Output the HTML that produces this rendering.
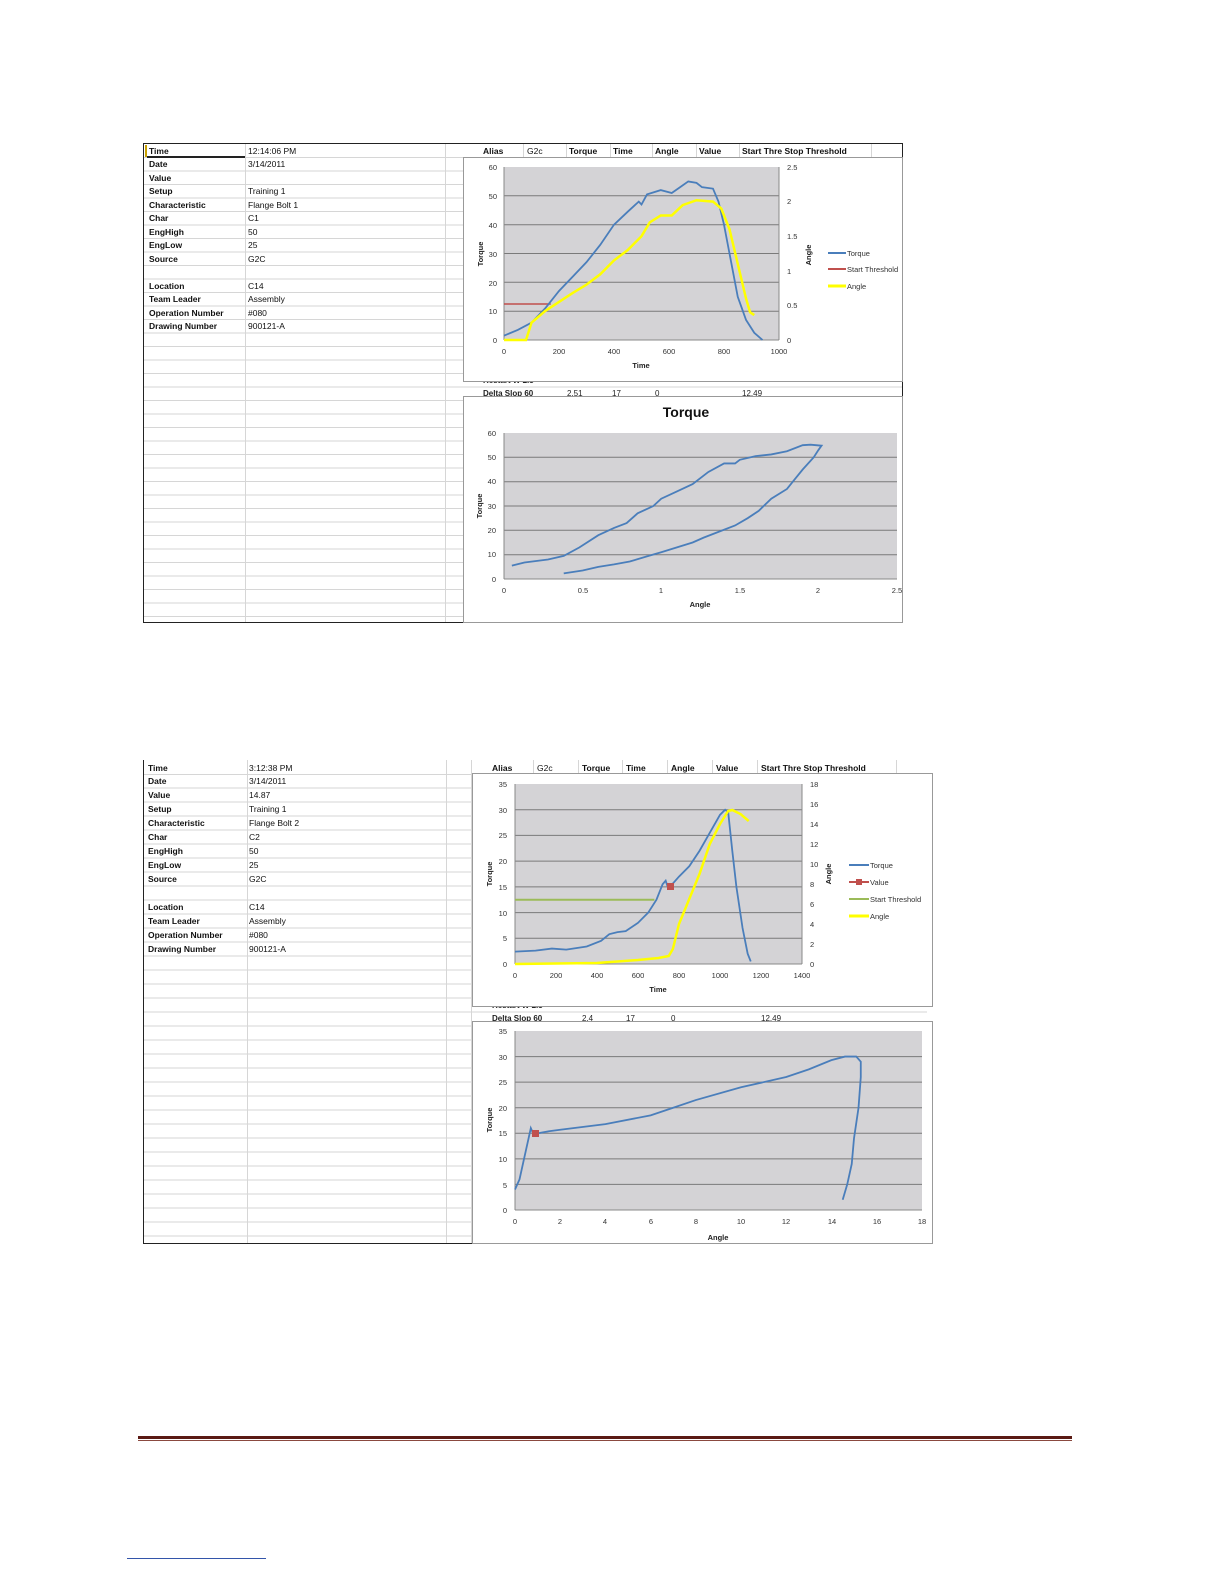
<!DOCTYPE html>
<html><head><meta charset="utf-8"><style>
body{margin:0;background:#fff;}
#p{position:relative;width:1224px;height:1584px;overflow:hidden;font-family:"Liberation Sans",sans-serif;}
.t{position:absolute;font-size:8.5px;color:#111;white-space:nowrap;line-height:10px;}
.b{font-weight:bold;}
svg{position:absolute;left:0;top:0;}
</style></head><body><div id="p">
<svg width="1224" height="1584" viewBox="0 0 1224 1584" font-family="Liberation Sans, sans-serif">
<!-- TOP SHEET grid -->
<g stroke="#d6d6d6" stroke-width="1">
<line x1="143" y1="157.5" x2="903" y2="157.5"/>
<line x1="143" y1="171" x2="463" y2="171"/><line x1="143" y1="184.5" x2="463" y2="184.5"/><line x1="143" y1="198" x2="463" y2="198"/><line x1="143" y1="211.5" x2="463" y2="211.5"/><line x1="143" y1="225" x2="463" y2="225"/><line x1="143" y1="238.5" x2="463" y2="238.5"/><line x1="143" y1="252" x2="463" y2="252"/><line x1="143" y1="265.5" x2="463" y2="265.5"/><line x1="143" y1="279" x2="463" y2="279"/><line x1="143" y1="292.5" x2="463" y2="292.5"/><line x1="143" y1="306" x2="463" y2="306"/><line x1="143" y1="319.5" x2="463" y2="319.5"/><line x1="143" y1="333" x2="463" y2="333"/><line x1="143" y1="346.5" x2="463" y2="346.5"/><line x1="143" y1="360" x2="463" y2="360"/><line x1="143" y1="373.5" x2="463" y2="373.5"/><line x1="143" y1="387" x2="903" y2="387"/><line x1="143" y1="400.5" x2="463" y2="400.5"/><line x1="143" y1="414" x2="463" y2="414"/><line x1="143" y1="427.5" x2="463" y2="427.5"/><line x1="143" y1="441" x2="463" y2="441"/><line x1="143" y1="454.5" x2="463" y2="454.5"/><line x1="143" y1="468" x2="463" y2="468"/><line x1="143" y1="481.5" x2="463" y2="481.5"/><line x1="143" y1="495" x2="463" y2="495"/><line x1="143" y1="508.5" x2="463" y2="508.5"/><line x1="143" y1="522" x2="463" y2="522"/><line x1="143" y1="535.5" x2="463" y2="535.5"/><line x1="143" y1="549" x2="463" y2="549"/><line x1="143" y1="562.5" x2="463" y2="562.5"/><line x1="143" y1="576" x2="463" y2="576"/><line x1="143" y1="589.5" x2="463" y2="589.5"/><line x1="143" y1="603" x2="463" y2="603"/><line x1="143" y1="616.5" x2="463" y2="616.5"/>
<line x1="245.5" y1="143" x2="245.5" y2="623"/><line x1="445.5" y1="143" x2="445.5" y2="623"/>
<line x1="523.5" y1="143" x2="523.5" y2="157"/><line x1="566.5" y1="143" x2="566.5" y2="157"/><line x1="610.5" y1="143" x2="610.5" y2="157"/><line x1="652.5" y1="143" x2="652.5" y2="157"/><line x1="696.5" y1="143" x2="696.5" y2="157"/><line x1="739.5" y1="143" x2="739.5" y2="157"/><line x1="871.5" y1="143" x2="871.5" y2="157"/>
</g>
<rect x="143.5" y="143.5" width="759" height="479" fill="none" stroke="#222" stroke-width="1"/>
<rect x="145" y="145" width="2" height="12" fill="#c9a100"/>
<line x1="147" y1="157" x2="245" y2="157" stroke="#222" stroke-width="2"/>
<!-- top header -->
<g font-size="8.5" font-weight="bold" fill="#111">
<text x="483" y="154">Alias</text><text x="527" y="154" font-weight="normal">G2c</text><text x="569" y="154">Torque</text><text x="613" y="154">Time</text><text x="655" y="154">Angle</text><text x="699" y="154">Value</text><text x="742" y="154">Start Thre Stop Threshold</text>
</g>
<g font-size="8" font-weight="bold" fill="#222"><text x="483" y="383">Restart W 2.5</text><text x="483" y="396">Delta Slop 60</text><text x="567" y="396" font-weight="normal">2.51</text><text x="612" y="396" font-weight="normal">17</text><text x="655" y="396" font-weight="normal">0</text><text x="742" y="396" font-weight="normal">12.49</text></g>

<!-- CHART 1 -->
<rect x="463.5" y="157.5" width="439" height="224" fill="#fff" stroke="#999"/>
<rect x="504" y="167" width="275" height="173" fill="#d4d3d6"/>
<g stroke="#7a7a7a" stroke-width="1"><line x1="504" y1="195.8" x2="779" y2="195.8"/><line x1="504" y1="224.7" x2="779" y2="224.7"/><line x1="504" y1="253.5" x2="779" y2="253.5"/><line x1="504" y1="282.3" x2="779" y2="282.3"/><line x1="504" y1="311.2" x2="779" y2="311.2"/></g>
<g stroke="#888" fill="none"><line x1="504" y1="167" x2="504" y2="340"/><line x1="504" y1="340" x2="779" y2="340"/><line x1="779" y1="167" x2="779" y2="340"/></g>
<g font-size="7.5" fill="#333" text-anchor="end"><text x="497" y="170">60</text><text x="497" y="199">50</text><text x="497" y="228">40</text><text x="497" y="257">30</text><text x="497" y="286">20</text><text x="497" y="314">10</text><text x="497" y="343">0</text></g>
<g font-size="7.5" fill="#333"><text x="787" y="170">2.5</text><text x="787" y="204">2</text><text x="787" y="239">1.5</text><text x="787" y="274">1</text><text x="787" y="308">0.5</text><text x="787" y="343">0</text></g>
<g font-size="7.5" fill="#333" text-anchor="middle"><text x="504" y="354">0</text><text x="559" y="354">200</text><text x="614" y="354">400</text><text x="669" y="354">600</text><text x="724" y="354">800</text><text x="779" y="354">1000</text></g>
<text x="641" y="368" font-size="7.5" font-weight="bold" text-anchor="middle" fill="#222">Time</text>
<text transform="translate(483,254) rotate(-90)" font-size="7.5" font-weight="bold" text-anchor="middle" fill="#222">Torque</text>
<text transform="translate(811,255) rotate(-90)" font-size="7.5" font-weight="bold" text-anchor="middle" fill="#222">Angle</text>
<g transform="translate(504,340) scale(0.275,-2.883)"><polyline vector-effect="non-scaling-stroke" stroke="#c0504d" stroke-width="1.5" fill="none" points="0,12.5 170,12.5"/>
<polyline vector-effect="non-scaling-stroke" stroke="#4a7ebb" stroke-width="1.8" fill="none" points="0,1.5 50,3.5 100,6 150,11 200,17 250,22 300,27 350,33 400,40 450,44.5 490,48 500,47 520,50.5 570,52 610,51 640,53 670,55 700,54.5 720,53 760,52.5 780,48 800,40 820,30 850,15 880,7 910,2.5 940,0"/></g>
<g transform="translate(504,340) scale(0.275,-69.2)"><polyline vector-effect="non-scaling-stroke" stroke="#ffff00" stroke-width="2.5" fill="none" points="0,0 80,0 100,0.25 150,0.42 200,0.55 250,0.68 300,0.8 350,0.95 400,1.15 450,1.3 500,1.5 530,1.7 570,1.8 610,1.8 650,1.95 700,2.02 760,2.0 790,1.9 820,1.6 850,1.1 880,0.6 895,0.4 910,0.36"/></g>
<g font-size="7.5" fill="#333"><line x1="828" y1="253" x2="846" y2="253" stroke="#4a7ebb" stroke-width="2"/><text x="847" y="256">Torque</text>
<line x1="828" y1="269" x2="846" y2="269" stroke="#c0504d" stroke-width="2"/><text x="847" y="272">Start Threshold</text>
<line x1="828" y1="286" x2="846" y2="286" stroke="#ffff00" stroke-width="3"/><text x="847" y="289">Angle</text></g>
<rect x="903" y="157" width="20" height="230" fill="#fff"/>

<!-- CHART 2 -->
<rect x="463.5" y="396.5" width="439" height="226" fill="#fff" stroke="#999"/>
<text x="686" y="417" font-size="14" font-weight="bold" text-anchor="middle" fill="#111">Torque</text>
<rect x="504" y="433" width="393" height="146" fill="#d4d3d6"/>
<g stroke="#7a7a7a"><line x1="504" y1="457.3" x2="897" y2="457.3"/><line x1="504" y1="481.7" x2="897" y2="481.7"/><line x1="504" y1="506" x2="897" y2="506"/><line x1="504" y1="530.3" x2="897" y2="530.3"/><line x1="504" y1="554.7" x2="897" y2="554.7"/></g>
<g stroke="#888"><line x1="504" y1="433" x2="504" y2="579"/><line x1="504" y1="579" x2="897" y2="579"/></g>
<g font-size="7.5" fill="#333" text-anchor="end"><text x="496" y="436">60</text><text x="496" y="460">50</text><text x="496" y="484">40</text><text x="496" y="509">30</text><text x="496" y="533">20</text><text x="496" y="557">10</text><text x="496" y="582">0</text></g>
<g font-size="7.5" fill="#333" text-anchor="middle"><text x="504" y="593">0</text><text x="583" y="593">0.5</text><text x="661" y="593">1</text><text x="740" y="593">1.5</text><text x="818" y="593">2</text><text x="897" y="593">2.5</text></g>
<text x="700" y="607" font-size="7.5" font-weight="bold" text-anchor="middle" fill="#222">Angle</text>
<text transform="translate(482,506) rotate(-90)" font-size="7.5" font-weight="bold" text-anchor="middle" fill="#222">Torque</text>
<g transform="translate(504,579) scale(157.2,-2.433)"><polyline vector-effect="non-scaling-stroke" stroke="#4a7ebb" stroke-width="1.8" fill="none" points="0.05,5.5 0.13,6.8 0.28,8 0.38,9.5 0.48,13 0.6,18 0.7,21 0.78,23 0.85,27 0.95,30 1.0,33 1.1,36 1.2,39 1.3,44 1.4,47.5 1.47,47.5 1.5,49 1.6,50.5 1.7,51.2 1.8,52.5 1.9,55 1.95,55.2 2.02,54.8 2.0,53 1.97,50 1.9,45 1.85,41 1.8,37 1.7,33 1.62,28 1.55,25 1.47,22 1.35,19 1.27,17 1.2,15 1.1,13 1.0,11 0.92,9.5 0.8,7.2 0.7,6 0.6,5 0.5,3.5 0.38,2.3"/></g>

<!-- BOTTOM SHEET grid -->
<g stroke="#d6d6d6">
<line x1="143" y1="774.5" x2="927" y2="774.5"/>
<line x1="143" y1="788" x2="471" y2="788"/><line x1="143" y1="802" x2="471" y2="802"/><line x1="143" y1="816" x2="471" y2="816"/><line x1="143" y1="830" x2="471" y2="830"/><line x1="143" y1="844" x2="471" y2="844"/><line x1="143" y1="858" x2="471" y2="858"/><line x1="143" y1="872" x2="471" y2="872"/><line x1="143" y1="886" x2="471" y2="886"/><line x1="143" y1="900" x2="471" y2="900"/><line x1="143" y1="914" x2="471" y2="914"/><line x1="143" y1="928" x2="471" y2="928"/><line x1="143" y1="942" x2="471" y2="942"/><line x1="143" y1="956" x2="471" y2="956"/><line x1="143" y1="970" x2="471" y2="970"/><line x1="143" y1="984" x2="471" y2="984"/><line x1="143" y1="998" x2="471" y2="998"/><line x1="143" y1="1012" x2="927" y2="1012"/><line x1="143" y1="1026" x2="471" y2="1026"/><line x1="143" y1="1040" x2="471" y2="1040"/><line x1="143" y1="1054" x2="471" y2="1054"/><line x1="143" y1="1068" x2="471" y2="1068"/><line x1="143" y1="1082" x2="471" y2="1082"/><line x1="143" y1="1096" x2="471" y2="1096"/><line x1="143" y1="1110" x2="471" y2="1110"/><line x1="143" y1="1124" x2="471" y2="1124"/><line x1="143" y1="1138" x2="471" y2="1138"/><line x1="143" y1="1152" x2="471" y2="1152"/><line x1="143" y1="1166" x2="471" y2="1166"/><line x1="143" y1="1180" x2="471" y2="1180"/><line x1="143" y1="1194" x2="471" y2="1194"/><line x1="143" y1="1208" x2="471" y2="1208"/><line x1="143" y1="1222" x2="471" y2="1222"/><line x1="143" y1="1236" x2="471" y2="1236"/>
<line x1="247.5" y1="760" x2="247.5" y2="1243"/><line x1="446.5" y1="760" x2="446.5" y2="1243"/><line x1="471.5" y1="760" x2="471.5" y2="1243"/>
<line x1="533.5" y1="760" x2="533.5" y2="774"/><line x1="578.5" y1="760" x2="578.5" y2="774"/><line x1="622.5" y1="760" x2="622.5" y2="774"/><line x1="667.5" y1="760" x2="667.5" y2="774"/><line x1="712.5" y1="760" x2="712.5" y2="774"/><line x1="757.5" y1="760" x2="757.5" y2="774"/><line x1="896.5" y1="760" x2="896.5" y2="774"/>
</g>
<line x1="143.5" y1="760" x2="143.5" y2="1243" stroke="#222"/>
<line x1="143" y1="1243.5" x2="927" y2="1243.5" stroke="#222"/>
<g font-size="8.5" font-weight="bold" fill="#111">
<text x="492" y="771">Alias</text><text x="537" y="771" font-weight="normal">G2c</text><text x="582" y="771">Torque</text><text x="626" y="771">Time</text><text x="671" y="771">Angle</text><text x="716" y="771">Value</text><text x="761" y="771">Start Thre Stop Threshold</text>
</g>
<g font-size="8" font-weight="bold" fill="#222"><text x="492" y="1008">Restart W 2.5</text><text x="492" y="1021">Delta Slop 60</text><text x="582" y="1021" font-weight="normal">2.4</text><text x="626" y="1021" font-weight="normal">17</text><text x="671" y="1021" font-weight="normal">0</text><text x="761" y="1021" font-weight="normal">12.49</text></g>

<!-- CHART 3 -->
<rect x="472.5" y="773.5" width="460" height="233" fill="#fff" stroke="#999"/>
<rect x="515" y="784" width="287" height="180" fill="#d4d3d6"/>
<g stroke="#7a7a7a"><line x1="515" y1="809.7" x2="802" y2="809.7"/><line x1="515" y1="835.4" x2="802" y2="835.4"/><line x1="515" y1="861.1" x2="802" y2="861.1"/><line x1="515" y1="886.9" x2="802" y2="886.9"/><line x1="515" y1="912.6" x2="802" y2="912.6"/><line x1="515" y1="938.3" x2="802" y2="938.3"/></g>
<g stroke="#888"><line x1="515" y1="784" x2="515" y2="964"/><line x1="515" y1="964" x2="802" y2="964"/><line x1="802" y1="784" x2="802" y2="964"/></g>
<g font-size="7.5" fill="#333" text-anchor="end"><text x="507" y="787">35</text><text x="507" y="813">30</text><text x="507" y="838">25</text><text x="507" y="864">20</text><text x="507" y="890">15</text><text x="507" y="916">10</text><text x="507" y="941">5</text><text x="507" y="967">0</text></g>
<g font-size="7.5" fill="#333"><text x="810" y="787">18</text><text x="810" y="807">16</text><text x="810" y="827">14</text><text x="810" y="847">12</text><text x="810" y="867">10</text><text x="810" y="887">8</text><text x="810" y="907">6</text><text x="810" y="927">4</text><text x="810" y="947">2</text><text x="810" y="967">0</text></g>
<g font-size="7.5" fill="#333" text-anchor="middle"><text x="515" y="978">0</text><text x="556" y="978">200</text><text x="597" y="978">400</text><text x="638" y="978">600</text><text x="679" y="978">800</text><text x="720" y="978">1000</text><text x="761" y="978">1200</text><text x="802" y="978">1400</text></g>
<text x="658" y="992" font-size="7.5" font-weight="bold" text-anchor="middle" fill="#222">Time</text>
<text transform="translate(492,874) rotate(-90)" font-size="7.5" font-weight="bold" text-anchor="middle" fill="#222">Torque</text>
<text transform="translate(831,874) rotate(-90)" font-size="7.5" font-weight="bold" text-anchor="middle" fill="#222">Angle</text>
<g transform="translate(515,964) scale(0.205,-5.143)"><polyline vector-effect="non-scaling-stroke" stroke="#9bbb59" stroke-width="2" fill="none" points="0,12.5 680,12.5"/>
<polyline vector-effect="non-scaling-stroke" stroke="#4a7ebb" stroke-width="1.8" fill="none" points="0,2.4 100,2.6 180,3 250,2.8 350,3.4 420,4.5 460,5.8 500,6.2 540,6.4 600,8 650,10 690,12.5 720,15.5 735,16.2 745,15 760,15.2 800,17 850,19 900,22 950,25.5 1000,29 1025,30 1040,29.5 1060,22 1080,15 1110,7 1135,2 1150,0.5"/></g>
<g transform="translate(515,964) scale(0.205,-10)"><polyline vector-effect="non-scaling-stroke" stroke="#ffff00" stroke-width="2.5" fill="none" points="0,0 400,0.1 600,0.4 700,0.6 750,0.8 770,1.5 800,4 850,6.5 900,9 950,12 1000,14 1040,15.3 1060,15.4 1100,15 1140,14.3"/></g>
<rect x="667" y="883" width="7" height="7" fill="#c0504d"/>
<g font-size="7.5" fill="#333"><line x1="849" y1="865" x2="869" y2="865" stroke="#4a7ebb" stroke-width="2"/><text x="870" y="868">Torque</text>
<line x1="849" y1="882" x2="869" y2="882" stroke="#c0504d" stroke-width="2"/><rect x="856" y="879" width="6" height="6" fill="#c0504d"/><text x="870" y="885">Value</text>
<line x1="849" y1="899" x2="869" y2="899" stroke="#9bbb59" stroke-width="2"/><text x="870" y="902">Start Threshold</text>
<line x1="849" y1="916" x2="869" y2="916" stroke="#ffff00" stroke-width="3"/><text x="870" y="919">Angle</text></g>

<!-- CHART 4 -->
<rect x="472.5" y="1021.5" width="460" height="222" fill="#fff" stroke="#999"/>
<rect x="515" y="1031" width="407" height="179" fill="#d4d3d6"/>
<g stroke="#7a7a7a"><line x1="515" y1="1056.6" x2="922" y2="1056.6"/><line x1="515" y1="1082.1" x2="922" y2="1082.1"/><line x1="515" y1="1107.7" x2="922" y2="1107.7"/><line x1="515" y1="1133.3" x2="922" y2="1133.3"/><line x1="515" y1="1158.9" x2="922" y2="1158.9"/><line x1="515" y1="1184.4" x2="922" y2="1184.4"/></g>
<g stroke="#888"><line x1="515" y1="1031" x2="515" y2="1210"/><line x1="515" y1="1210" x2="922" y2="1210"/></g>
<g font-size="7.5" fill="#333" text-anchor="end"><text x="507" y="1034">35</text><text x="507" y="1060">30</text><text x="507" y="1085">25</text><text x="507" y="1111">20</text><text x="507" y="1136">15</text><text x="507" y="1162">10</text><text x="507" y="1188">5</text><text x="507" y="1213">0</text></g>
<g font-size="7.5" fill="#333" text-anchor="middle"><text x="515" y="1224">0</text><text x="560" y="1224">2</text><text x="605" y="1224">4</text><text x="651" y="1224">6</text><text x="696" y="1224">8</text><text x="741" y="1224">10</text><text x="786" y="1224">12</text><text x="832" y="1224">14</text><text x="877" y="1224">16</text><text x="922" y="1224">18</text></g>
<text x="718" y="1240" font-size="7.5" font-weight="bold" text-anchor="middle" fill="#222">Angle</text>
<text transform="translate(492,1120) rotate(-90)" font-size="7.5" font-weight="bold" text-anchor="middle" fill="#222">Torque</text>
<g transform="translate(515,1210) scale(22.6,-5.114)"><polyline vector-effect="non-scaling-stroke" stroke="#4a7ebb" stroke-width="1.8" fill="none" points="0,4 0.2,6 0.4,10 0.6,14 0.7,16 0.8,15 0.9,14.9 1.5,15.4 2,15.7 4,16.8 6,18.5 7,20 8,21.5 10,24 12,26 13,27.5 14,29.3 14.6,30 15.1,30 15.3,29 15.3,26 15.2,20 15,14 14.9,9 14.7,5 14.5,2"/></g>
<rect x="532" y="1130" width="7" height="7" fill="#c0504d"/>

<!-- footer -->
<rect x="138" y="1436" width="934" height="3" fill="#5a1a14"/>
<rect x="138" y="1440" width="934" height="1" fill="#8b4a40"/>
<line x1="127" y1="1558.5" x2="266" y2="1558.5" stroke="#3355aa"/>
</svg>

<!-- top table text -->
<div class="t b" style="left:149px;top:146px">Time</div><div class="t" style="left:248px;top:146px">12:14:06 PM</div>
<div class="t b" style="left:149px;top:159px">Date</div><div class="t" style="left:248px;top:159px">3/14/2011</div>
<div class="t b" style="left:149px;top:173px">Value</div>
<div class="t b" style="left:149px;top:186px">Setup</div><div class="t" style="left:248px;top:186px">Training 1</div>
<div class="t b" style="left:149px;top:200px">Characteristic</div><div class="t" style="left:248px;top:200px">Flange Bolt 1</div>
<div class="t b" style="left:149px;top:213px">Char</div><div class="t" style="left:248px;top:213px">C1</div>
<div class="t b" style="left:149px;top:227px">EngHigh</div><div class="t" style="left:248px;top:227px">50</div>
<div class="t b" style="left:149px;top:240px">EngLow</div><div class="t" style="left:248px;top:240px">25</div>
<div class="t b" style="left:149px;top:254px">Source</div><div class="t" style="left:248px;top:254px">G2C</div>
<div class="t b" style="left:149px;top:281px">Location</div><div class="t" style="left:248px;top:281px">C14</div>
<div class="t b" style="left:149px;top:294px">Team Leader</div><div class="t" style="left:248px;top:294px">Assembly</div>
<div class="t b" style="left:149px;top:308px">Operation Number</div><div class="t" style="left:248px;top:308px">#080</div>
<div class="t b" style="left:149px;top:321px">Drawing Number</div><div class="t" style="left:248px;top:321px">900121-A</div>
<!-- bottom table text -->
<div class="t b" style="left:148px;top:763px">Time</div><div class="t" style="left:249px;top:763px">3:12:38 PM</div>
<div class="t b" style="left:148px;top:776px">Date</div><div class="t" style="left:249px;top:776px">3/14/2011</div>
<div class="t b" style="left:148px;top:790px">Value</div><div class="t" style="left:249px;top:790px">14.87</div>
<div class="t b" style="left:148px;top:804px">Setup</div><div class="t" style="left:249px;top:804px">Training 1</div>
<div class="t b" style="left:148px;top:818px">Characteristic</div><div class="t" style="left:249px;top:818px">Flange Bolt 2</div>
<div class="t b" style="left:148px;top:832px">Char</div><div class="t" style="left:249px;top:832px">C2</div>
<div class="t b" style="left:148px;top:846px">EngHigh</div><div class="t" style="left:249px;top:846px">50</div>
<div class="t b" style="left:148px;top:860px">EngLow</div><div class="t" style="left:249px;top:860px">25</div>
<div class="t b" style="left:148px;top:874px">Source</div><div class="t" style="left:249px;top:874px">G2C</div>
<div class="t b" style="left:148px;top:902px">Location</div><div class="t" style="left:249px;top:902px">C14</div>
<div class="t b" style="left:148px;top:916px">Team Leader</div><div class="t" style="left:249px;top:916px">Assembly</div>
<div class="t b" style="left:148px;top:930px">Operation Number</div><div class="t" style="left:249px;top:930px">#080</div>
<div class="t b" style="left:148px;top:944px">Drawing Number</div><div class="t" style="left:249px;top:944px">900121-A</div>
</div></body></html>
